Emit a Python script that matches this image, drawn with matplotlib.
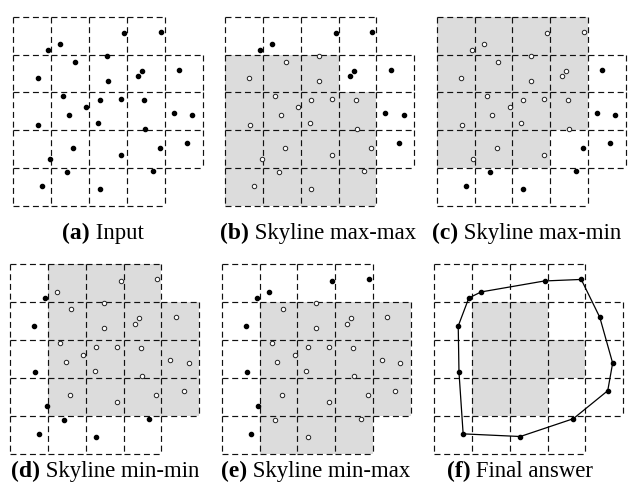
import matplotlib
matplotlib.use('Agg')
import matplotlib.pyplot as plt
from matplotlib.collections import LineCollection
from matplotlib.patches import Rectangle

plt.rcParams['lines.scale_dashes'] = False

# point positions in cell units: x to the right, y downward from the top row
pt_x = [2.92, 3.89, 1.245, 0.92, 2.48, 1.62, 0.64, 2.49, 3.41, 3.30, 4.38,
        1.32, 1.93, 1.47, 0.66, 2.28, 2.84, 2.24, 3.46, 3.49, 4.24, 4.72,
        4.59, 3.87, 2.84, 1.59, 0.97, 1.42, 0.77, 2.28, 3.68]
pt_y = [0.44, 0.40, 0.73, 0.89, 1.03, 1.19, 1.63, 1.69, 1.43, 1.57, 1.40,
        2.09, 2.39, 2.59, 2.85, 2.19, 2.18, 2.82, 2.20, 2.96, 2.54, 2.61,
        3.34, 3.46, 3.65, 3.46, 3.75, 4.11, 4.48, 4.55, 4.08]

n_rows = 5
n_cols = 5
missing_cells = [(0, 4), (4, 4)]  # (row, col)

# shaded columns for each row, top row first
shade_input = [[], [], [], [], []]
shade_maxmax = [[], [0, 1, 2], [0, 1, 2, 3], [0, 1, 2, 3], [0, 1, 2, 3]]
shade_maxmin = [[0, 1, 2, 3], [0, 1, 2, 3], [0, 1, 2, 3], [0, 1, 2], []]
shade_minmin = [[1, 2, 3], [1, 2, 3, 4], [1, 2, 3, 4], [1, 2, 3, 4], []]
shade_minmax = [[], [1, 2, 3, 4], [1, 2, 3, 4], [1, 2, 3, 4], [1, 2, 3]]
shade_final = [[], [1, 2], [1, 2, 3], [1, 2], []]

panel_letters = ['(a)', '(b)', '(c)', '(d)', '(e)', '(f)']
panel_names = ['Input', 'Skyline max-max', 'Skyline max-min',
               'Skyline min-min', 'Skyline min-max', 'Final answer']
panel_shades = [shade_input, shade_maxmax, shade_maxmin,
                shade_minmin, shade_minmax, shade_final]

GREY = '#dcdcdc'
W, H = 632, 490
CELL = 37.85


def convex_hull(xs, ys):
    pts = sorted(set(zip(xs, ys)))

    def cross(o, a, b):
        return (a[0] - o[0]) * (b[1] - o[1]) - (a[1] - o[1]) * (b[0] - o[0])

    lower = []
    for p in pts:
        while len(lower) >= 2 and cross(lower[-2], lower[-1], p) <= 0:
            lower.pop()
        lower.append(p)
    upper = []
    for p in reversed(pts):
        while len(upper) >= 2 and cross(upper[-2], upper[-1], p) <= 0:
            upper.pop()
        upper.append(p)
    return lower[:-1] + upper[:-1]


def grid_segments():
    segs = set()
    for r in range(n_rows):
        for c in range(n_cols):
            if (r, c) in missing_cells:
                continue
            segs.add(((c, r), (c + 1, r)))
            segs.add(((c, r + 1), (c + 1, r + 1)))
            segs.add(((c, r), (c, r + 1)))
            segs.add(((c + 1, r), (c + 1, r + 1)))
    return sorted(segs)


def draw_panel(ax, shade, hull=False):
    ax.set_xlim(0, n_cols)
    ax.set_ylim(n_rows, 0)
    ax.axis('off')

    for r, cols in enumerate(shade):
        for c in cols:
            ax.add_patch(Rectangle((c, r), 1, 1, facecolor=GREY,
                                   edgecolor='none', zorder=1))

    lc = LineCollection(grid_segments(), colors='#111111', linewidths=0.85,
                        linestyles=[(0, (4.3, 2.7))], zorder=2)
    lc.set_clip_on(False)
    ax.add_collection(lc)

    if hull:
        h = convex_hull(pt_x, pt_y)
        hx = [p[0] for p in h] + [h[0][0]]
        hy = [p[1] for p in h] + [h[0][1]]
        ax.plot(hx, hy, color='black', lw=0.9, zorder=3, clip_on=False)
        ax.plot(hx[:-1], hy[:-1], 'o', ms=3.0, color='black', zorder=4,
                clip_on=False)
        return

    filled_x, filled_y, hollow_x, hollow_y = [], [], [], []
    for x, y in zip(pt_x, pt_y):
        if int(x) in shade[int(y)]:
            hollow_x.append(x)
            hollow_y.append(y)
        else:
            filled_x.append(x)
            filled_y.append(y)
    ax.plot(filled_x, filled_y, 'o', ms=3.0, color='black', zorder=4,
            clip_on=False)
    ax.plot(hollow_x, hollow_y, 'o', ms=3.2, mfc='white', mec='#222222',
            mew=0.7, zorder=4, clip_on=False)


fig = plt.figure(figsize=(W / 100, H / 100), dpi=100)
renderer = fig.canvas.get_renderer()

# top-left pixel of each grid, and label centre / baseline
panel_left = [13.3, 225.0, 436.7, 10.0, 221.7, 434.0]
panel_top = [16.7, 16.7, 16.7, 264.3, 264.3, 264.3]
label_cx = [103, 318, 527, 105, 316, 520]
label_base = [239, 239, 239, 477, 477, 477]

size = CELL * n_cols
for i in range(6):
    ax = fig.add_axes([panel_left[i] / W, 1 - (panel_top[i] + size) / H,
                       size / W, size / H])
    draw_panel(ax, panel_shades[i], hull=(i == 5))

    t1 = fig.text(0, 1 - label_base[i] / H, panel_letters[i], fontsize=17,
                  fontweight='bold', family='Liberation Serif', va='baseline')
    t2 = fig.text(0, 1 - label_base[i] / H, ' ' + panel_names[i],
                  fontsize=16.4, family='Liberation Serif', va='baseline')
    w1 = t1.get_window_extent(renderer).width
    w2 = t2.get_window_extent(renderer).width
    x0 = label_cx[i] - (w1 + w2) / 2
    t1.set_x(x0 / W)
    t2.set_x((x0 + w1) / W)

fig.savefig('out.png', dpi=100)
plt.close()
